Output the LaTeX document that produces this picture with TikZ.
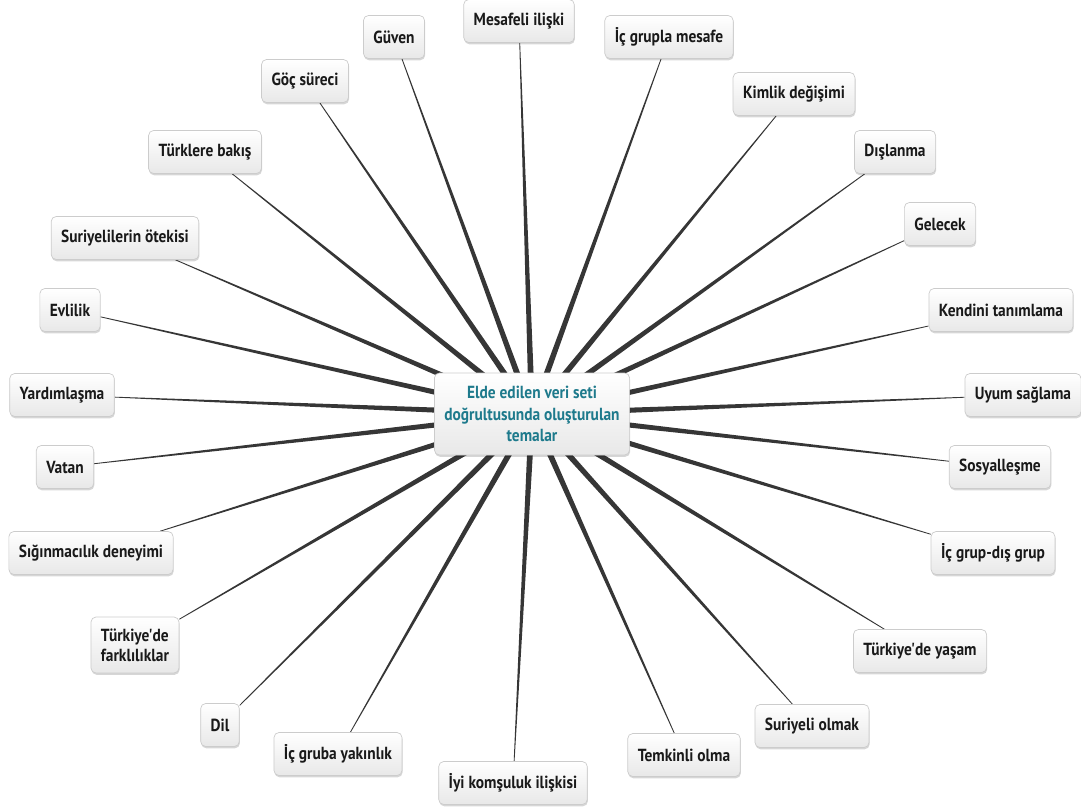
\documentclass[tikz,border=0pt]{standalone}
\usepackage{fontspec}
\setmainfont{PT Sans}[FakeStretch=0.88, Ligatures=TeXOff]
\usetikzlibrary{calc,shadows,backgrounds}
\definecolor{teal1}{HTML}{1E7A8C}
\definecolor{linec}{HTML}{363636}
\tikzset{
  theme/.style={draw=black!20, line width=0.7pt, rounded corners=5pt,
    top color=white, bottom color=black!9,
    drop shadow={shadow xshift=0.6pt, shadow yshift=-1.8pt, opacity=0.16, fill=black},
    font=\fontsize{17.5}{20}\selectfont\bfseries, text=black!90,
    minimum height=43pt, inner xsep=10pt, inner ysep=6pt, align=center},
  hub/.style={theme, text=teal1, minimum width=187pt, minimum height=82pt,
    font=\fontsize{17.5}{21.5}\selectfont\bfseries},
  conn/.style={fill=linec, draw=none}
}
\newcommand{\spoke}[1]{%
  \path (ctr.center) -- (#1) coordinate[pos=1] (e#1);
  \fill[conn] ($(e#1)!0.4pt!90:(ctr.center)$) -- ($(ctr.center)!3.2pt!-90:(e#1)$)
     -- ($(ctr.center)!3.2pt!90:(e#1)$) -- ($(e#1)!0.4pt!-90:(ctr.center)$) -- cycle;}
\begin{document}
\begin{tikzpicture}[x=1pt,y=-1pt]
\useasboundingbox (0,0) rectangle (1081,809);
\node[hub] (ctr) at (532,414) {Elde edilen veri seti\\doğrultusunda oluşturulan\\temalar};
\node[theme] (mes) at (519,21) {Mesafeli ilişki};
\node[theme] (guv) at (394,37) {Güven};
\node[theme] (icm) at (669,37) {İç grupla mesafe};
\node[theme] (goc) at (305,81) {Göç süreci};
\node[theme] (kim) at (794,94) {Kimlik değişimi};
\node[theme] (tur) at (205,152) {Türklere bakış};
\node[theme] (dis) at (895,152) {Dışlanma};
\node[theme] (gel) at (940,224) {Gelecek};
\node[theme] (sur) at (125,238) {Suriyelilerin ötekisi};
\node[theme] (evl) at (70,310) {Evlilik};
\node[theme] (ken) at (1001,310) {Kendini tanımlama};
\node[theme] (yar) at (62,395) {Yardımlaşma};
\node[theme] (uyu) at (1023,395) {Uyum sağlama};
\node[theme] (vat) at (65,467) {Vatan};
\node[theme] (sos) at (1000,467) {Sosyalleşme};
\node[theme] (sig) at (91,553) {Sığınmacılık deneyimi};
\node[theme] (igd) at (993,553) {İç grup-dış grup};
\node[theme, align=left, minimum height=56pt] (tfa) at (135,645) {Türkiye'de\\farklılıklar};
\node[theme] (tya) at (920,651) {Türkiye'de yaşam};
\node[theme] (dil) at (220,725) {Dil};
\node[theme] (sol) at (812,726) {Suriyeli olmak};
\node[theme] (igy) at (338,754) {İç gruba yakınlık};
\node[theme] (tem) at (684,755) {Temkinli olma};
\node[theme] (iyi) at (513,783) {İyi komşuluk ilişkisi};
\begin{scope}[on background layer]
\foreach \n in {mes,guv,icm,goc,kim,tur,dis,gel,sur,evl,ken,yar,uyu,vat,sos,sig,igd,tfa,tya,dil,sol,igy,tem,iyi}{\spoke{\n}}
\end{scope}
\end{tikzpicture}
\end{document}
